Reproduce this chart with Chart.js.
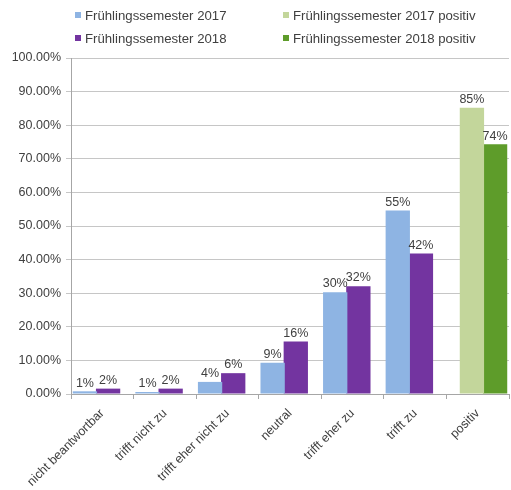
<!DOCTYPE html>
<html>
<head>
<meta charset="utf-8">
<script src="https://cdn.jsdelivr.net/npm/chart.js@4.4.1/dist/chart.umd.min.js"></script>
<style>
  body { margin: 0; background: #fff; font-family: 'Liberation Sans', Arial, sans-serif; }
  #wrap { position: relative; width: 511px; height: 490px; }
  #chart { position: absolute; left: 0; top: 0; }
  .lg { position: absolute; display: flex; align-items: center; height: 16px; font-size: 13.2px; color: #404040; white-space: nowrap; }
  .lg i { display: inline-block; width: 6px; height: 6px; margin-right: 4px; }
</style>
</head>
<body>
<div id="wrap">
  <canvas id="chart" width="511" height="490"></canvas>
  <div id="legend"></div>
</div>
<script>
/* Frühlingssemester 2017 vs 2018 — Zustimmung in Prozent */

var CATEGORIES = ['nicht beantwortbar', 'trifft nicht zu', 'trifft eher nicht zu', 'neutral', 'trifft eher zu', 'trifft zu', 'positiv'];
var FS2017     = [0.8, 0.6, 3.6, 9.3, 30.3, 54.6, null];
var FS2018     = [1.6, 1.6, 6.2, 15.6, 32.1, 41.8, null];
var FS2017_POS = [null, null, null, null, null, null, 85.2];
var FS2018_POS = [null, null, null, null, null, null, 74.3];
var Y_MAX = 100, Y_STEP = 10;

var SERIES = [
  { label: 'Frühlingssemester 2017',         data: FS2017,     color: '#8EB4E3' },
  { label: 'Frühlingssemester 2017 positiv', data: FS2017_POS, color: '#C3D69B' },
  { label: 'Frühlingssemester 2018',         data: FS2018,     color: '#7334A0' },
  { label: 'Frühlingssemester 2018 positiv', data: FS2018_POS, color: '#5E9C2A' }
];

var TXT = '#404040';
var FONT = "'Liberation Sans', Arial, sans-serif";

/* legend: two rows, two columns */
var LEGEND_POS = [[75, 7], [283, 7], [75, 30], [283, 30]];
var legend = document.getElementById('legend');
SERIES.forEach(function(s, i) {
  var d = document.createElement('div');
  d.className = 'lg';
  d.style.left = LEGEND_POS[i][0] + 'px';
  d.style.top = LEGEND_POS[i][1] + 'px';
  d.innerHTML = '<i style="background:' + s.color + '"></i>' + s.label;
  legend.appendChild(d);
});

/* value labels above bars */
var barLabels = {
  id: 'barLabels',
  afterDatasetsDraw: function(chart) {
    var ctx = chart.ctx;
    ctx.save();
    ctx.font = '12.5px ' + FONT;
    ctx.fillStyle = TXT;
    ctx.textAlign = 'center';
    ctx.textBaseline = 'bottom';
    chart.data.datasets.forEach(function(ds, di) {
      chart.getDatasetMeta(di).data.forEach(function(bar, i) {
        var v = ds.data[i];
        if (v === null || v === undefined) return;
        ctx.fillText(Math.round(v) + '%', bar.x, bar.y - 2);
      });
    });
    ctx.restore();
  }
};

new Chart(document.getElementById('chart'), {
  type: 'bar',
  data: {
    labels: CATEGORIES,
    datasets: SERIES.map(function(s) {
      return { label: s.label, data: s.data, backgroundColor: s.color, borderWidth: 0,
               categoryPercentage: 0.74, barPercentage: 2.1 };
    })
  },
  options: {
    responsive: false,
    animation: false,
    layout: { padding: { top: 58, right: 2, left: 10, bottom: 0 } },
    plugins: { legend: { display: false }, tooltip: { enabled: false } },
    scales: {
      x: {
        offset: true,
        grid: { display: true, drawOnChartArea: false, offset: true, tickLength: 5, color: '#a6a6a6' },
        border: { color: '#a6a6a6' },
        ticks: { color: TXT, font: { family: FONT, size: 12.5 }, minRotation: 45, maxRotation: 45, autoSkip: false, padding: 7 },
        afterFit: function(s) { s.height = 96; }
      },
      y: {
        min: 0, max: Y_MAX,
        grid: { color: '#c6c6c6', tickLength: 5 },
        border: { color: '#a6a6a6' },
        ticks: { stepSize: Y_STEP, color: TXT, font: { family: FONT, size: 12.5 }, padding: 5,
                 callback: function(v) { return v.toFixed(2) + '%'; } },
        afterFit: function(s) { s.width = 61; }
      }
    }
  },
  plugins: [barLabels]
});
</script>
</body>
</html>
